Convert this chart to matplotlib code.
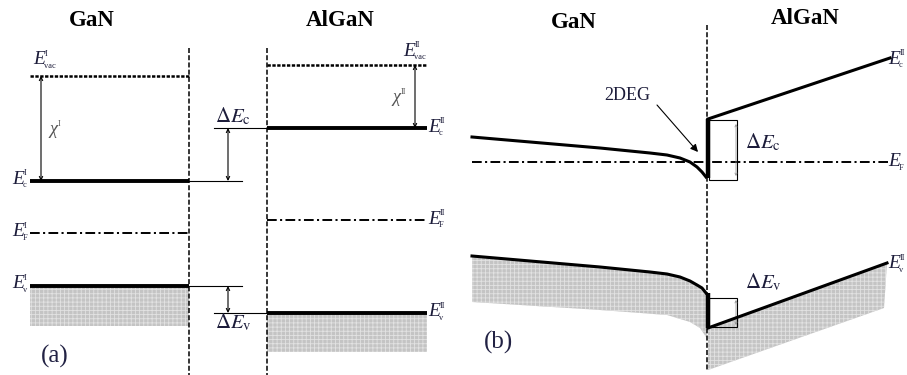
import matplotlib
matplotlib.use("Agg")
import matplotlib.pyplot as plt
from matplotlib.patches import Polygon, Rectangle

plt.rcParams['font.family'] = ['Liberation Serif', 'DejaVu Serif']
plt.rcParams['mathtext.fontset'] = 'stix'
plt.rcParams['lines.scale_dashes'] = False
plt.rcParams['hatch.linewidth'] = 0.6

# ---------------- data (pixel-like diagram units, y grows downward) -------------
# Panel (a): flat-band levels  [E_vac, E_c, E_F, E_v]
gan_a_x = [30, 189]
algan_a_x = [267, 427]
gan_a_levels = [76, 181, 233, 286]
algan_a_levels = [65, 128, 220, 313]
gan_a_fill_bottom = 326
algan_a_fill_bottom = 352
interface_a_x = [189, 267]
offset_arrow_x = 228

# Panel (b): bent bands
interface_b_x = 707
gan_ec_x = [472, 600, 650, 667, 680, 690, 697, 702, 706]
gan_ec_y = [137, 148, 153, 155, 158, 162, 167, 172, 177]
gan_ev_x = [472, 600, 650, 667, 680, 690, 697, 702, 706]
gan_ev_y = [256, 267, 272, 274, 277, 281, 285, 288, 293]
gan_fill_bottom_x = [706, 700, 690, 667, 600, 472]
gan_fill_bottom_y = [337, 328, 322, 315, 310, 302]
algan_ec_x = [708, 890]
algan_ec_y = [119, 58]
algan_ev_x = [708, 887]
algan_ev_y = [328, 263]
algan_fill_bottom_x = [884, 708]
algan_fill_bottom_y = [308, 370]
fermi_b_x = [472, 888]
fermi_b_y = 162
dec_box = [709, 120, 737, 180]
dev_box = [709, 298, 737, 327]

FILL = '#c4c4c4'
LAB = '#1c1c3a'

fig = plt.figure(figsize=(9.07, 3.75), dpi=100)
ax = fig.add_axes([0, 0, 1, 1])
ax.set_xlim(0, 907)
ax.set_ylim(375, 0)
ax.axis('off')

def shade(xs, ys):
    ax.add_patch(Polygon(list(zip(xs, ys)), closed=True, facecolor=FILL,
                         edgecolor='#e2e2e2', hatch='++++', linewidth=0, zorder=1))

def darrow(x, y1, y2, color='black', lw=0.8, ms=6):
    ax.annotate('', xy=(x, y1), xytext=(x, y2),
                arrowprops=dict(arrowstyle='<->', color=color, lw=lw,
                                mutation_scale=ms, shrinkA=0, shrinkB=0))

def elabel(x, y, sup, sub, main='E', size=14, dx=12, color=LAB):
    ax.text(x, y, main, ha='left', va='center', fontsize=size, fontstyle='italic',
            color=color)
    if sup:
        ax.text(x + dx, y - 6, sup, ha='left', va='center', fontsize=6, color=color)
    if sub:
        ax.text(x + dx - 1, y + 6, sub, ha='left', va='center', fontsize=6, color=color)

def dlabel(x, y, sub):
    ax.text(x, y, r'$\Delta E_{\mathrm{%s}}$' % sub, ha='left', va='baseline',
            fontsize=15, color=LAB)

# ---------------- panel (a) ----------------
for xi in interface_a_x:
    ax.plot([xi, xi], [48, 375], color='black', lw=1.1, ls=(0, (3.6, 1.6)), zorder=3)

ax.plot(gan_a_x, [gan_a_levels[0]] * 2, color='black', lw=1.8, ls=(0, (2.4, 1.1)))
ax.plot(algan_a_x, [algan_a_levels[0]] * 2, color='black', lw=1.8, ls=(0, (2.4, 1.1)))
ax.plot(gan_a_x, [gan_a_levels[1]] * 2, color='black', lw=2.8, solid_capstyle='butt')
ax.plot(algan_a_x, [algan_a_levels[1]] * 2, color='black', lw=2.8, solid_capstyle='butt')
ax.plot(gan_a_x, [gan_a_levels[2]] * 2, color='black', lw=1.4, ls=(0, (7, 2.4, 1.5, 2.4)))
ax.plot(algan_a_x, [algan_a_levels[2]] * 2, color='black', lw=1.4, ls=(0, (7, 2.4, 1.5, 2.4)))
shade([gan_a_x[0], gan_a_x[1], gan_a_x[1], gan_a_x[0]],
      [gan_a_levels[3], gan_a_levels[3], gan_a_fill_bottom, gan_a_fill_bottom])
shade([algan_a_x[0], algan_a_x[1], algan_a_x[1], algan_a_x[0]],
      [algan_a_levels[3], algan_a_levels[3], algan_a_fill_bottom, algan_a_fill_bottom])
ax.plot(gan_a_x, [gan_a_levels[3]] * 2, color='black', lw=2.8, solid_capstyle='butt')
ax.plot(algan_a_x, [algan_a_levels[3]] * 2, color='black', lw=2.8, solid_capstyle='butt')

ax.plot([gan_a_x[1], 242], [gan_a_levels[1]] * 2, color='black', lw=0.8)
ax.plot([214, algan_a_x[0]], [algan_a_levels[1]] * 2, color='black', lw=0.8)
ax.plot([gan_a_x[1], 242], [gan_a_levels[3]] * 2, color='black', lw=0.8)
ax.plot([214, algan_a_x[0]], [algan_a_levels[3]] * 2, color='black', lw=0.8)
darrow(offset_arrow_x, algan_a_levels[1], gan_a_levels[1])
darrow(offset_arrow_x, gan_a_levels[3], algan_a_levels[3])
darrow(41, gan_a_levels[0], gan_a_levels[1])
darrow(415, algan_a_levels[0], algan_a_levels[1])

ax.text(92, 21, 'GaN', ha='center', va='center', fontsize=16.5, fontweight='bold')
ax.text(340, 20, 'AlGaN', ha='center', va='center', fontsize=16.5, fontweight='bold')
elabel(33, 60, 'I', 'vac')
elabel(403, 51, 'II', 'vac')
elabel(12, gan_a_levels[1] - 2, 'I', 'c')
elabel(12, gan_a_levels[2] - 1, 'I', 'F')
elabel(12, gan_a_levels[3] - 2, 'I', 'v')
elabel(428, algan_a_levels[1] - 1, 'II', 'c')
elabel(428, algan_a_levels[2] - 1, 'II', 'F')
elabel(428, algan_a_levels[3] - 1, 'II', 'v')
elabel(49, 130, 'I', None, main='χ', size=13, dx=9, color='#555555')
elabel(392, 98, 'II', None, main='χ', size=13, dx=9, color='#555555')
dlabel(215, 122, 'c')
dlabel(215, 328, 'v')
ax.text(41, 356, '(a)', ha='left', va='center', fontsize=18, color='#222244')

# ---------------- panel (b) ----------------
ax.plot([interface_b_x, interface_b_x], [25, 370], color='black', lw=1.1,
        ls=(0, (3.6, 1.6)), zorder=3)

shade(gan_ev_x + [interface_b_x] + gan_fill_bottom_x,
      gan_ev_y + [gan_fill_bottom_y[0]] + gan_fill_bottom_y)
shade(algan_ev_x + [algan_fill_bottom_x[0]] + algan_fill_bottom_x,
      algan_ev_y + [algan_fill_bottom_y[0]] + algan_fill_bottom_y)

ax.plot(fermi_b_x, [fermi_b_y] * 2, color='black', lw=1.4, ls=(0, (7, 2.4, 1.5, 2.4)), zorder=2)

ax.plot(gan_ec_x, gan_ec_y, color='black', lw=2.2, solid_joinstyle='round', zorder=4)
ax.plot(gan_ev_x, gan_ev_y, color='black', lw=2.2, solid_joinstyle='round', zorder=4)
ax.plot(algan_ec_x, algan_ec_y, color='black', lw=2.2, zorder=4)
ax.plot(algan_ev_x, algan_ev_y, color='black', lw=2.2, zorder=4)
ax.plot([algan_ec_x[0], algan_ec_x[0]], [gan_ec_y[-1] + 1, algan_ec_y[0]],
        color='black', lw=3.2, solid_capstyle='butt', zorder=4)
ax.plot([algan_ev_x[0], algan_ev_x[0]], [gan_ev_y[-1], algan_ev_y[0]],
        color='black', lw=3.2, solid_capstyle='butt', zorder=4)

for b in (dec_box, dev_box):
    ax.add_patch(Rectangle((b[0], b[1]), b[2] - b[0], b[3] - b[1], fill=False,
                           edgecolor='black', lw=0.8, zorder=3))
darrow(dec_box[2] - 1, dec_box[1] + 4, dec_box[3] - 4, color='#888888', lw=0.5, ms=4)
darrow(dev_box[2] - 1, dev_box[1] + 2, dev_box[3] - 2, color='#888888', lw=0.5, ms=4)

ax.annotate('', xy=(698, 152), xytext=(657, 105),
            arrowprops=dict(arrowstyle='-|>', color='black', lw=0.8,
                            mutation_scale=11, shrinkA=0, shrinkB=0))

ax.text(574, 22, 'GaN', ha='center', va='center', fontsize=16.5, fontweight='bold')
ax.text(805, 18, 'AlGaN', ha='center', va='center', fontsize=16.5, fontweight='bold')
ax.text(604, 100, '2DEG', ha='left', va='baseline', fontsize=13, color=LAB)
dlabel(745, 148, 'c')
dlabel(745, 288, 'v')
elabel(888, 59, 'II', 'c')
elabel(888, 162, None, 'F')
elabel(888, 264, 'II', 'v')
ax.text(484, 342, '(b)', ha='left', va='center', fontsize=18, color='#222244')

fig.savefig('out.png', dpi=100)
